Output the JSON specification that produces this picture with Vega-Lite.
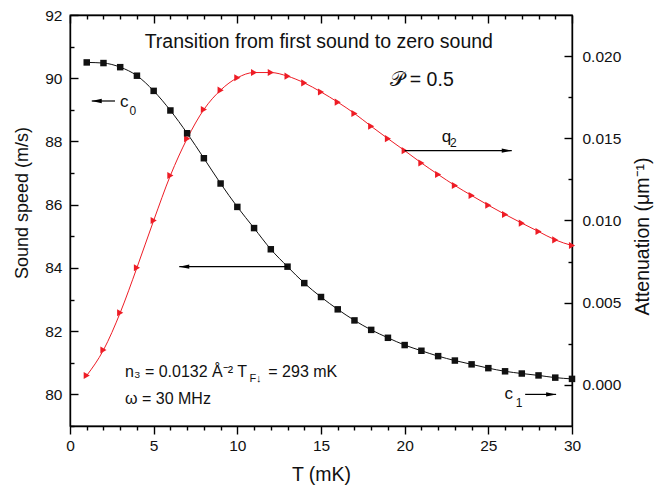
{
  "$schema": "https://vega.github.io/schema/vega-lite/v6.json",
  "width": 502,
  "height": 411,
  "autosize": {"type": "none"},
  "padding": {"left": 70, "top": 15, "right": 93, "bottom": 64},
  "background": "white",
  "config": {
    "font": "Liberation Sans",
    "view": {"stroke": "#000", "strokeWidth": 1.3},
    "axis": {
      "domainColor": "#000", "domainWidth": 1.4, "tickColor": "#000", "tickWidth": 1.4,
      "labelColor": "#111", "titleColor": "#111", "labelFont": "Liberation Sans", "titleFont": "Liberation Sans",
      "titleFontWeight": "normal", "grid": false, "labelFontSize": 15.5, "titleFontSize": 19.5
    }
  },
  "datasets": {
    "speed": [
      {"T": 1, "c": 90.50}, {"T": 2, "c": 90.48}, {"T": 3, "c": 90.35}, {"T": 4, "c": 90.08}, {"T": 5, "c": 89.60},
      {"T": 6, "c": 88.98}, {"T": 7, "c": 88.26}, {"T": 8, "c": 87.47}, {"T": 9, "c": 86.67}, {"T": 10, "c": 85.93},
      {"T": 11, "c": 85.26}, {"T": 12, "c": 84.59}, {"T": 13, "c": 84.04}, {"T": 14, "c": 83.52}, {"T": 15, "c": 83.08},
      {"T": 16, "c": 82.69}, {"T": 17, "c": 82.34}, {"T": 18, "c": 82.04}, {"T": 19, "c": 81.79}, {"T": 20, "c": 81.56},
      {"T": 21, "c": 81.38}, {"T": 22, "c": 81.21}, {"T": 23, "c": 81.07}, {"T": 24, "c": 80.95}, {"T": 25, "c": 80.83},
      {"T": 26, "c": 80.73}, {"T": 27, "c": 80.66}, {"T": 28, "c": 80.60}, {"T": 29, "c": 80.53}, {"T": 30, "c": 80.49}
    ],
    "atten": [
      {"T": 1, "q": 0.00057}, {"T": 2, "q": 0.00212}, {"T": 3, "q": 0.00439}, {"T": 4, "q": 0.00713}, {"T": 5, "q": 0.0100},
      {"T": 6, "q": 0.01274}, {"T": 7, "q": 0.01498}, {"T": 8, "q": 0.01675}, {"T": 9, "q": 0.01793}, {"T": 10, "q": 0.01868},
      {"T": 11, "q": 0.0190}, {"T": 12, "q": 0.0190}, {"T": 13, "q": 0.01878}, {"T": 14, "q": 0.01837}, {"T": 15, "q": 0.01782},
      {"T": 16, "q": 0.0172}, {"T": 17, "q": 0.01651}, {"T": 18, "q": 0.01573}, {"T": 19, "q": 0.01498}, {"T": 20, "q": 0.01425},
      {"T": 21, "q": 0.0135}, {"T": 22, "q": 0.0128}, {"T": 23, "q": 0.01213}, {"T": 24, "q": 0.01152}, {"T": 25, "q": 0.01093},
      {"T": 26, "q": 0.01037}, {"T": 27, "q": 0.00984}, {"T": 28, "q": 0.00933}, {"T": 29, "q": 0.00882}, {"T": 30, "q": 0.00848}
    ],
    "arrowsL": [
      {"Ts": 2.69, "Tt": 1.30, "v": 89.28, "dir": "left"},
      {"Ts": 13.0, "Tt": 6.53, "v": 84.04, "dir": "left"},
      {"Ts": 27.2, "Tt": 29.05, "v": 80.0, "dir": "right"}
    ],
    "arrowsR": [
      {"Ts": 20.0, "Tt": 26.4, "v": 0.01425, "dir": "right"}
    ],
    "headings": [
      {"T": 14.87, "v": 90.95, "label": "Transition from first sound to zero sound"},
      {"T": 21.04, "v": 89.75, "label": "𝒫 = 0.5"}
    ],
    "letters": [
      {"T": 2.99, "v": 89.10, "label": "c"},
      {"T": 22.22, "v": 87.99, "label": "q"},
      {"T": 25.96, "v": 79.85, "label": "c"}
    ],
    "subs": [
      {"T": 3.55, "v": 88.84, "label": "0"},
      {"T": 22.71, "v": 87.81, "label": "2"},
      {"T": 26.64, "v": 79.60, "label": "1"}
    ],
    "notes": [
      {"T": 3.29, "v": 80.55, "label": "n₃ = 0.0132 Å⁻²  T"},
      {"T": 11.85, "v": 80.55, "label": "= 293 mK"},
      {"T": 3.29, "v": 79.69, "label": "ω = 30 MHz"}
    ],
    "notesub": [
      {"T": 10.72, "v": 80.40, "label": "F↓"}
    ]
  },
  "resolve": {"scale": {"y": "independent"}, "axis": {"x": "independent", "y": "independent"}},
  "layer": [
    {
      "resolve": {"axis": {"x": "independent", "y": "independent"}},
      "layer": [
        {
          "data": {"name": "atten"},
          "mark": {"type": "line", "color": "#ee1c25", "strokeWidth": 1, "interpolate": "monotone"},
          "encoding": {
            "x": {"field": "T", "type": "quantitative", "scale": {"domain": [0, 30], "nice": false, "zero": false},
              "axis": {"orient": "top", "values": [0, 1, 2, 3, 4, 5, 6, 7, 8, 9, 10, 11, 12, 13, 14, 15, 16, 17, 18, 19, 20, 21, 22, 23, 24, 25, 26, 27, 28, 29, 30],
                "tickSize": -8, "tickDash": {"condition": {"test": "datum.value % 5 === 0", "value": [20, 0]}, "value": [4, 20]},
                "labels": false, "title": null}},
            "y": {"field": "q", "type": "quantitative", "scale": {"domain": [-0.0025, 0.0225], "nice": false, "zero": false},
              "axis": {"orient": "right", "values": [0, 0.0025, 0.005, 0.0075, 0.01, 0.0125, 0.015, 0.0175, 0.02], "format": ".3f",
                "labelExpr": "abs(datum.value*200 - round(datum.value*200)) < 0.000001 ? datum.label : ''",
                "tickSize": -8, "tickDash": {"condition": {"test": "abs(datum.value*200 - round(datum.value*200)) < 0.000001", "value": [20, 0]}, "value": [4, 20]},
                "labelPadding": 18,
                "labelFlush": false, "labelOverlap": false, "title": "Attenuation  (μm⁻¹)", "titleX": 70, "titleY": 221,
                "titleAngle": -90, "titleAlign": "center", "titleBaseline": "middle"}}
          }
        },
        {
          "data": {"name": "atten"},
          "mark": {"type": "point", "shape": "triangle-right", "filled": true, "color": "#ee1c25", "size": 50, "opacity": 1},
          "encoding": {
            "x": {"field": "T", "type": "quantitative", "scale": {"domain": [0, 30], "nice": false, "zero": false}, "axis": null},
            "y": {"field": "q", "type": "quantitative", "scale": {"domain": [-0.0025, 0.0225], "nice": false, "zero": false}, "axis": null}
          }
        },
        {
          "data": {"name": "arrowsR"},
          "mark": {"type": "rule", "color": "#000", "strokeWidth": 1.2},
          "encoding": {
            "x": {"field": "Ts", "type": "quantitative", "scale": {"domain": [0, 30], "nice": false, "zero": false}, "axis": null},
            "x2": {"field": "Tt"},
            "y": {"field": "v", "type": "quantitative", "scale": {"domain": [-0.0025, 0.0225], "nice": false, "zero": false}, "axis": null}
          }
        },
        {
          "data": {"name": "arrowsR"},
          "mark": {"type": "point", "filled": true, "color": "#000", "size": 100, "opacity": 1, "strokeWidth": 0},
          "encoding": {
            "x": {"field": "Tt", "type": "quantitative", "scale": {"domain": [0, 30], "nice": false, "zero": false}, "axis": null},
            "y": {"field": "v", "type": "quantitative", "scale": {"domain": [-0.0025, 0.0225], "nice": false, "zero": false}, "axis": null},
            "shape": {"field": "dir", "type": "nominal", "scale": {"domain": ["left", "right"], "range": ["M0,0L2,-0.43L2,0.43Z", "M0,0L-2,-0.43L-2,0.43Z"]}, "legend": null}
          }
        }
      ]
    },
    {
      "resolve": {"axis": {"x": "independent", "y": "independent"}},
      "layer": [
        {
          "data": {"name": "speed"},
          "mark": {"type": "line", "color": "#111", "strokeWidth": 1, "interpolate": "monotone"},
          "encoding": {
            "x": {"field": "T", "type": "quantitative", "scale": {"domain": [0, 30], "nice": false, "zero": false},
              "axis": {"orient": "bottom", "values": [0, 1, 2, 3, 4, 5, 6, 7, 8, 9, 10, 11, 12, 13, 14, 15, 16, 17, 18, 19, 20, 21, 22, 23, 24, 25, 26, 27, 28, 29, 30],
                "labelExpr": "datum.value % 5 === 0 ? datum.label : ''",
                "tickSize": 8, "tickDash": {"condition": {"test": "datum.value % 5 === 0", "value": [20, 0]}, "value": [4, 20]},
                "labelPadding": 4, "format": "d",
                "labelFlush": false, "labelOverlap": false, "title": "T  (mK)", "titleX": 251, "titleY": 54,
                "titleAlign": "center", "titleBaseline": "alphabetic", "titleAngle": 0}},
            "y": {"field": "c", "type": "quantitative", "scale": {"domain": [79, 92], "nice": false, "zero": false},
              "axis": {"orient": "left", "values": [79, 80, 81, 82, 83, 84, 85, 86, 87, 88, 89, 90, 91, 92],
                "labelExpr": "datum.value % 2 === 0 ? datum.label : ''",
                "tickSize": -8, "tickDash": {"condition": {"test": "datum.value % 2 === 0", "value": [20, 0]}, "value": [4, 20]},
                "labelPadding": 16,
                "labelFlush": false, "labelOverlap": false, "title": "Sound speed  (m/s)", "titleFontSize": 18, "titleX": -48, "titleY": 187.5,
                "titleAngle": -90, "titleAlign": "center", "titleBaseline": "middle"}}
          }
        },
        {
          "data": {"name": "speed"},
          "mark": {"type": "point", "shape": "square", "filled": true, "color": "#111", "size": 42, "opacity": 1},
          "encoding": {
            "x": {"field": "T", "type": "quantitative", "scale": {"domain": [0, 30], "nice": false, "zero": false}, "axis": null},
            "y": {"field": "c", "type": "quantitative", "scale": {"domain": [79, 92], "nice": false, "zero": false}, "axis": null}
          }
        },
        {
          "data": {"name": "arrowsL"},
          "mark": {"type": "rule", "color": "#000", "strokeWidth": 1.2},
          "encoding": {
            "x": {"field": "Ts", "type": "quantitative", "scale": {"domain": [0, 30], "nice": false, "zero": false}, "axis": null},
            "x2": {"field": "Tt"},
            "y": {"field": "v", "type": "quantitative", "scale": {"domain": [79, 92], "nice": false, "zero": false}, "axis": null}
          }
        },
        {
          "data": {"name": "arrowsL"},
          "mark": {"type": "point", "filled": true, "color": "#000", "size": 100, "opacity": 1, "strokeWidth": 0},
          "encoding": {
            "x": {"field": "Tt", "type": "quantitative", "scale": {"domain": [0, 30], "nice": false, "zero": false}, "axis": null},
            "y": {"field": "v", "type": "quantitative", "scale": {"domain": [79, 92], "nice": false, "zero": false}, "axis": null},
            "shape": {"field": "dir", "type": "nominal", "scale": {"domain": ["left", "right"], "range": ["M0,0L2,-0.43L2,0.43Z", "M0,0L-2,-0.43L-2,0.43Z"]}, "legend": null}
          }
        },
        {
          "data": {"name": "headings"},
          "mark": {"type": "text", "fontSize": 19.5, "align": "center", "baseline": "alphabetic", "color": "#111"},
          "encoding": {
            "x": {"field": "T", "type": "quantitative", "scale": {"domain": [0, 30], "nice": false, "zero": false}, "axis": null},
            "y": {"field": "v", "type": "quantitative", "scale": {"domain": [79, 92], "nice": false, "zero": false}, "axis": null},
            "text": {"field": "label"}
          }
        },
        {
          "data": {"name": "letters"},
          "mark": {"type": "text", "fontSize": 17, "align": "left", "baseline": "alphabetic", "color": "#111"},
          "encoding": {
            "x": {"field": "T", "type": "quantitative", "scale": {"domain": [0, 30], "nice": false, "zero": false}, "axis": null},
            "y": {"field": "v", "type": "quantitative", "scale": {"domain": [79, 92], "nice": false, "zero": false}, "axis": null},
            "text": {"field": "label"}
          }
        },
        {
          "data": {"name": "subs"},
          "mark": {"type": "text", "fontSize": 12, "align": "left", "baseline": "alphabetic", "color": "#111"},
          "encoding": {
            "x": {"field": "T", "type": "quantitative", "scale": {"domain": [0, 30], "nice": false, "zero": false}, "axis": null},
            "y": {"field": "v", "type": "quantitative", "scale": {"domain": [79, 92], "nice": false, "zero": false}, "axis": null},
            "text": {"field": "label"}
          }
        },
        {
          "data": {"name": "notes"},
          "mark": {"type": "text", "fontSize": 16, "align": "left", "baseline": "alphabetic", "color": "#111"},
          "encoding": {
            "x": {"field": "T", "type": "quantitative", "scale": {"domain": [0, 30], "nice": false, "zero": false}, "axis": null},
            "y": {"field": "v", "type": "quantitative", "scale": {"domain": [79, 92], "nice": false, "zero": false}, "axis": null},
            "text": {"field": "label"}
          }
        },
        {
          "data": {"name": "notesub"},
          "mark": {"type": "text", "fontSize": 11, "align": "left", "baseline": "alphabetic", "color": "#111"},
          "encoding": {
            "x": {"field": "T", "type": "quantitative", "scale": {"domain": [0, 30], "nice": false, "zero": false}, "axis": null},
            "y": {"field": "v", "type": "quantitative", "scale": {"domain": [79, 92], "nice": false, "zero": false}, "axis": null},
            "text": {"field": "label"}
          }
        }
      ]
    }
  ]
}
